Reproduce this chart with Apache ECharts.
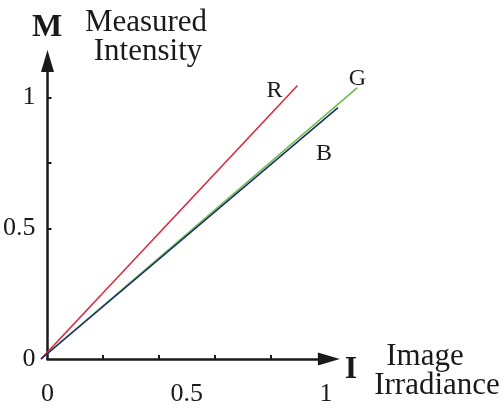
<!DOCTYPE html>
<html><head><meta charset="utf-8">
<script src="https://cdn.jsdelivr.net/npm/echarts@6/dist/echarts.min.js"></script>
<style>html,body{margin:0;padding:0;background:#fff}#c{width:504px;height:414px}</style>
</head><body><div id="c"></div>
<script>
// Data
const seriesNames = ['R', 'G', 'B'];
const rValues = [[0, 0], [0.90, 1.046]];
const gValues = [[0, 0], [1.11, 1.038]];
const bValues = [[0, 0], [1.042, 0.962]];
const xTickLabels = [0, 0.5, 1];
const yTickLabels = [0, 0.5, 1];
const xMinorTicks = [0.2, 0.4, 0.6, 0.8];
const yMinorTicks = [0.5, 0.75, 1];

const serif = '"Liberation Serif", "DejaVu Serif", serif';
const ink = '#1a1a1a';
const chart = echarts.init(document.getElementById('c'));

// pixel scale shared by both grids
const X_MAX_AXIS = 1.01, X_MAX_DATA = 1.12, Y_MAX = 1.14;
const LEFT = 41, BOTTOM = 55, TOP = 61, PX_X = 285;

function axisCommon(labels, ticks) {
  return {
    type: 'value', min: 0,
    splitLine: {show: false},
    axisLine: {show: true, lineStyle: {color: ink, width: 2.5}, symbol: ['none', 'triangle'], symbolSize: [13, 22]},
    axisTick: {show: true, inside: true, length: 4, lineStyle: {color: ink, width: 2}, customValues: ticks},
    axisLabel: {show: true, customValues: labels, color: ink, fontFamily: serif, fontSize: 26, formatter: v => String(v)}
  };
}
const xa = axisCommon(xTickLabels, xMinorTicks);
xa.max = X_MAX_AXIS; xa.axisLabel.margin = 22; xa.gridIndex = 0;
const ya = axisCommon(yTickLabels, yMinorTicks);
ya.max = Y_MAX; ya.axisLabel.margin = 12; ya.gridIndex = 0;

const hiddenAxis = (max) => ({type: 'value', min: 0, max: max, gridIndex: 1, show: false, splitLine: {show: false}});

function lineSeries(name, data, color, off) {
  return {
    name: name, type: 'line', data: data, xAxisIndex: 1, yAxisIndex: 1, clip: false, symbol: 'none',
    lineStyle: {color: color, width: 1.6}, itemStyle: {color: color},
    endLabel: {show: true, formatter: '{a}', color: ink, fontFamily: serif, fontSize: 24,
      align: 'center', verticalAlign: 'middle', distance: 0, offset: off},
    silent: true
  };
}

chart.setOption({
  animation: false,
  grid: [
    {left: LEFT, width: X_MAX_AXIS * PX_X, top: TOP, bottom: BOTTOM, containLabel: false},
    {left: LEFT, width: X_MAX_DATA * PX_X, top: TOP, bottom: BOTTOM, containLabel: false}
  ],
  xAxis: [xa, hiddenAxis(X_MAX_DATA)],
  yAxis: [ya, hiddenAxis(Y_MAX)],
  series: [
    lineSeries(seriesNames[1], gValues, '#6abf4b', [0, -9]),
    lineSeries(seriesNames[0], rValues, '#d62a3e', [-23, 5]),
    lineSeries(seriesNames[2], bValues, '#1b2870', [-14, 46])
  ],
  graphic: [
    {type: 'text', style: {x: 47, y: 28, text: 'M', font: 'bold 32px ' + serif, fill: ink, textAlign: 'center', textVerticalAlign: 'middle'}},
    {type: 'text', style: {x: 146, y: 23, text: 'Measured', font: '31px ' + serif, fill: ink, textAlign: 'center', textVerticalAlign: 'middle'}},
    {type: 'text', style: {x: 148, y: 52, text: 'Intensity', font: '31px ' + serif, fill: ink, textAlign: 'center', textVerticalAlign: 'middle'}},
    {type: 'text', style: {x: 351, y: 370, text: 'I', font: 'bold 32px ' + serif, fill: ink, textAlign: 'center', textVerticalAlign: 'middle'}},
    {type: 'text', style: {x: 425, y: 357, text: 'Image', font: '31px ' + serif, fill: ink, textAlign: 'center', textVerticalAlign: 'middle'}},
    {type: 'text', style: {x: 437, y: 386, text: 'Irradiance', font: '31px ' + serif, fill: ink, textAlign: 'center', textVerticalAlign: 'middle'}}
  ]
});
</script></body></html>
